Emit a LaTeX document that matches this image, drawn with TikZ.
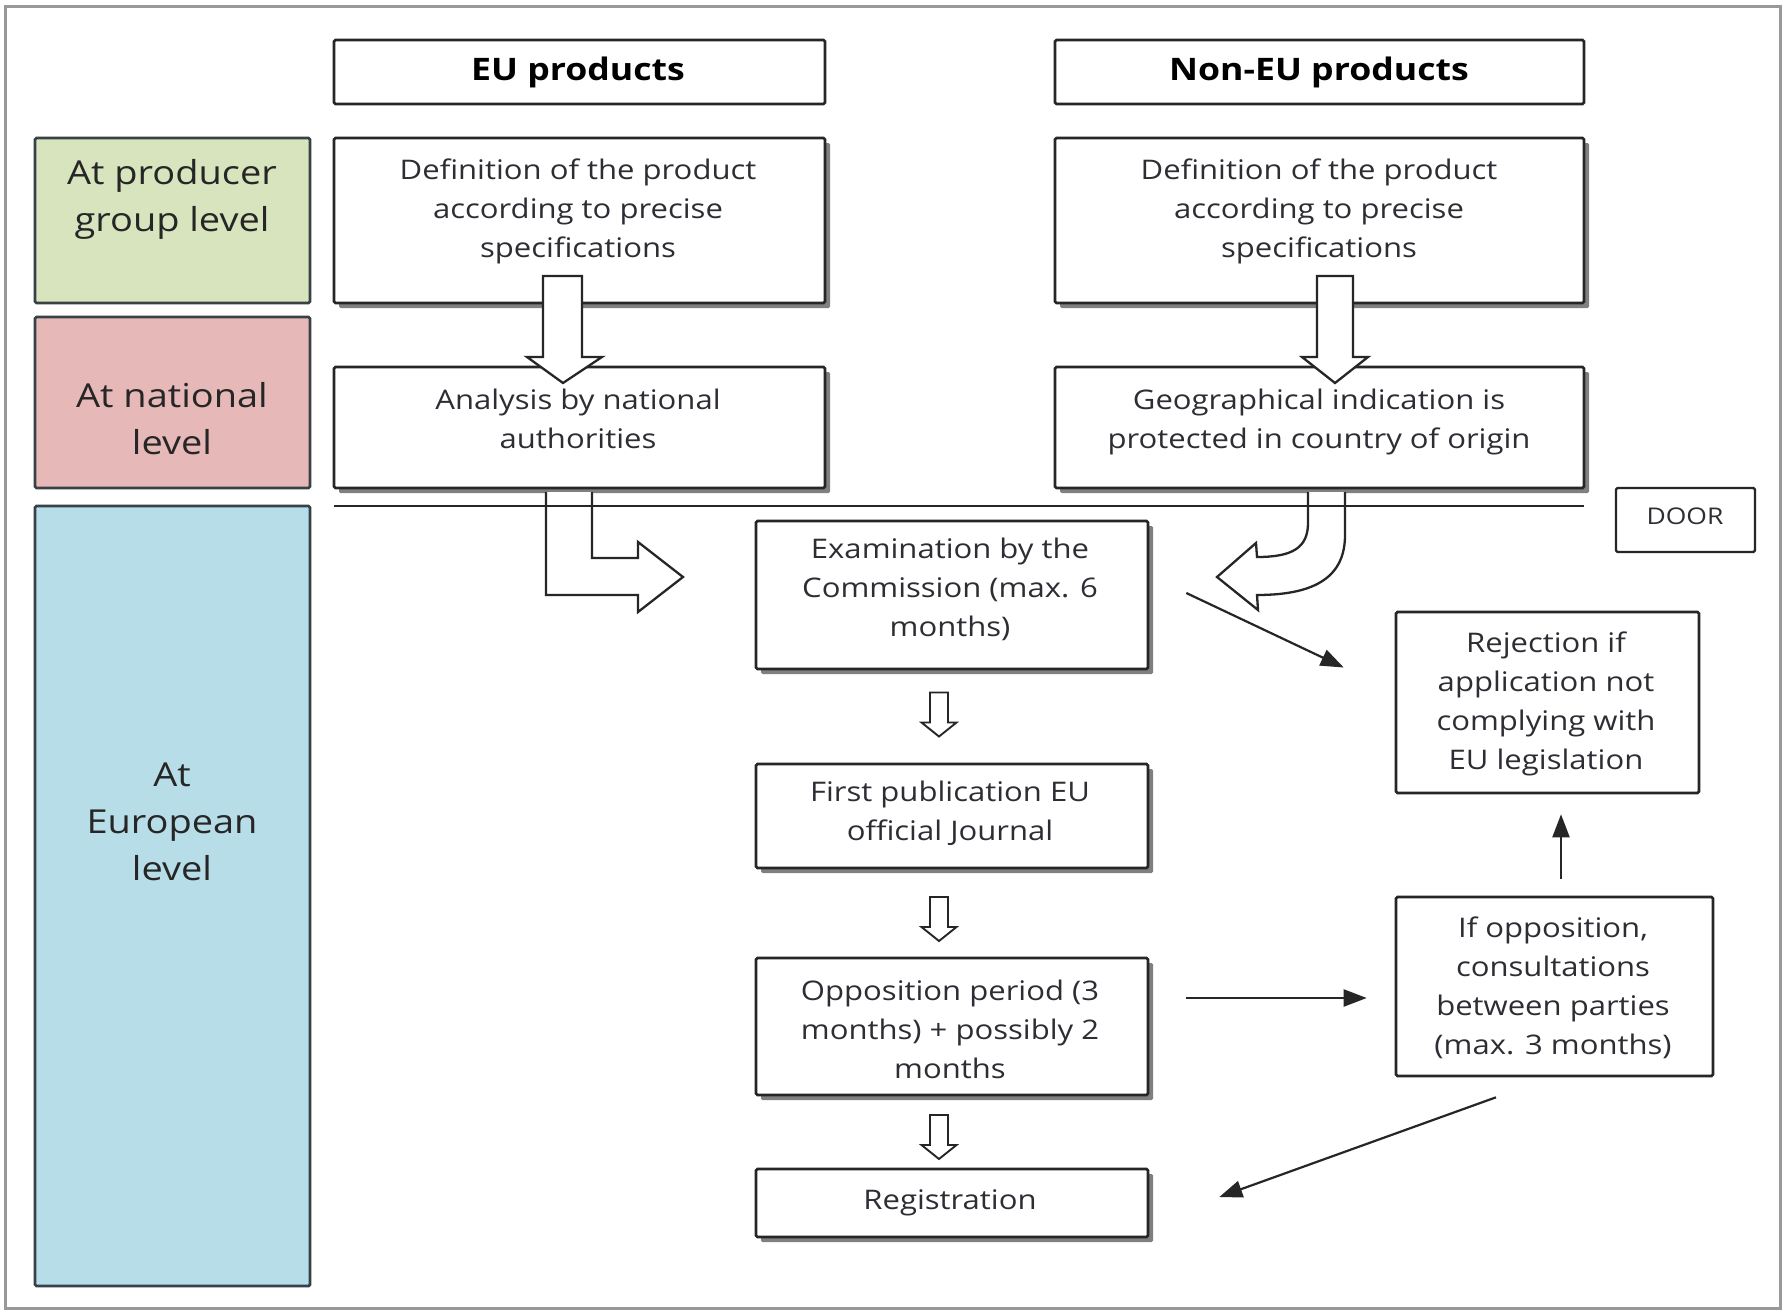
\documentclass[tikz,border=0pt]{standalone}
\usepackage{fontspec}
\setmainfont[FakeStretch=1.15]{Open Sans}
\usetikzlibrary{fit,shadows,arrows.meta,calc}
\definecolor{lgreen}{RGB}{215,228,189}
\definecolor{lpink}{RGB}{230,185,184}
\definecolor{lblue}{RGB}{183,221,232}
\definecolor{lvlborder}{RGB}{55,65,70}
\definecolor{txtgray}{RGB}{45,45,52}
\tikzset{
  box/.style={draw=black!85, line width=2.6pt, rounded corners=1.5pt, fill=white, inner sep=0pt},
  sbox/.style={box, drop shadow={shadow xshift=5pt, shadow yshift=-5pt, fill=black!50, opacity=1}},
  lvl/.style={draw=lvlborder, line width=2.8pt, rounded corners=1.5pt, inner sep=0pt},
  txt/.style={align=center, text=txtgray, font=\fontsize{27}{39}\selectfont, inner sep=0pt},
  ttl/.style={align=center, text=black, font=\fontsize{31}{39}\selectfont\bfseries, inner sep=0pt},
  lvltxt/.style={align=center, text=black!85, font=\fontsize{33}{47}\selectfont, inner sep=0pt},
  hollow/.style={draw=black!85, line width=2.3pt, fill=white, line join=miter},
  arr/.style={draw=black!85, line width=2.2pt, -{Triangle[length=23pt,width=17pt]}},
  downarr/.pic={\draw[hollow, line width=1.9pt] (-9,-22) -- (9,-22) -- (9,8) -- (17.5,8) -- (0,22) -- (-17.5,8) -- (-9,8) -- cycle;}
}
\begin{document}
\begin{tikzpicture}[x=1pt,y=-1pt]
\useasboundingbox (0,0) rectangle (1787,1311);
\fill[white] (0,0) rectangle (1787,1311);
\draw[black!40, line width=3pt] (5,7) rectangle (1780,1308);

% level boxes
\node[lvl, fill=lgreen, fit={(35,138)(310,303)}] (lprod) {};
\node[lvl, fill=lpink, fit={(35,317)(310,488)}] (lnat) {};
\node[lvl, fill=lblue, fit={(35,506)(310,1286)}] (leur) {};
\node[lvltxt] (tprod) at (172,199) {At producer\\group level};
\node[lvltxt] (tnat) at (172,419) {At national\\level};
\node[lvltxt] (teur) at (172,822) {At\\European\\level};

% title boxes
\node[box, fit={(334,40)(825,104)}] (eu) {};
\node[box, fit={(1055,40)(1584,104)}] (noneu) {};
\node[ttl] (teu) at (578,72) {EU products};
\node[ttl] (tnoneu) at (1319,72) {Non-EU products};

% shadowed boxes
\node[sbox, fit={(334,138)(825,303)}] (def1) {};
\node[sbox, fit={(1055,138)(1584,303)}] (def2) {};
\node[sbox, fit={(334,367)(825,488)}] (ana) {};
\node[sbox, fit={(1055,367)(1584,488)}] (geo) {};
\node[sbox, fit={(756,521)(1148,669)}] (exam) {};
\node[sbox, fit={(756,764)(1148,868)}] (pub) {};
\node[sbox, fit={(756,958)(1148,1095)}] (opp) {};
\node[sbox, fit={(756,1169)(1148,1237)}] (reg) {};

% plain boxes
\node[box, fit={(1396,612)(1699,793)}] (rej) {};
\node[box, fit={(1396,897)(1713,1076)}] (ifopp) {};
\node[box, line width=2.2pt, fit={(1616,488)(1755,552)}] (door) {};

% texts
\node[txt] (tdef1) at (578,211) {Definition of the product\\according to precise\\specifications};
\node[txt] (tdef2) at (1319,211) {Definition of the product\\according to precise\\specifications};
\node[txt] (tana) at (578,419) {Analysis by national\\authorities};
\node[txt] (tgeo) at (1319,422) {Geographical indication is\\protected in country of origin};
\node[txt] (texam) at (950,589) {Examination by the\\Commission (max. 6\\months)};
\node[txt] (tpub) at (950,813) {First publication EU\\official Journal};
\node[txt] (topp) at (950,1029) {Opposition period (3\\months) + possibly 2\\months};
\node[txt] (treg) at (950,1203) {Registration};
\node[txt] (trej) at (1546,704) {Rejection if\\application not\\complying with\\EU legislation};
\node[txt] (tifopp) at (1553,988) {If opposition,\\consultations\\between parties\\(max. 3 months)};
\node[txt, font=\fontsize{23}{30}\selectfont] (tdoor) at (1685,516) {DOOR};

% big hollow arrows
\draw[hollow] (543,276) -- (582,276) -- (582,357) -- (602,357) -- (563,383) -- (527,357) -- (543,357) -- cycle;
\draw[hollow] (1317,276) -- (1353,276) -- (1353,357) -- (1368,357) -- (1335,383) -- (1302,357) -- (1317,357) -- cycle;
\filldraw[hollow] (546,492) -- (546,595) -- (638,595) -- (638,612) -- (683,577) -- (638,542) -- (638,558) -- (592,558) -- (592,492);
\filldraw[hollow] (1308,492) -- (1308,523) .. controls (1308,548) and (1292,557) .. (1257,557) -- (1256,543) -- (1217,577) -- (1258,610) -- (1257,595) .. controls (1318,595) and (1345,575) .. (1345,535) -- (1345,492);

% separator line
\draw[black!85, line width=2pt] (334,506) -- (1584,506);

% small hollow arrows
\pic at ($($(exam.south)!0.5!(pub.north)$)+(-13,-2)$) {downarr};
\pic at ($($(pub.south)!0.5!(opp.north)$)+(-13,6)$) {downarr};
\pic at ($($(opp.south)!0.5!(reg.north)$)+(-13,5)$) {downarr};

% line arrows
\draw[arr] ([xshift=37pt,yshift=2pt]exam.east) -- ([xshift=-51pt,yshift=35pt]rej.west);
\draw[arr] ([xshift=37pt,yshift=28.5pt]opp.east) -- ([xshift=-28pt,yshift=-11.5pt]ifopp.west);
\draw[arr] ([xshift=6.5pt,yshift=17pt]ifopp.north) -- ([xshift=13.5pt,yshift=-20pt]rej.south);
\draw[arr] ([xshift=-58.5pt,yshift=-20pt]ifopp.south) -- ([xshift=70pt,yshift=6pt]reg.east);
\end{tikzpicture}
\end{document}
